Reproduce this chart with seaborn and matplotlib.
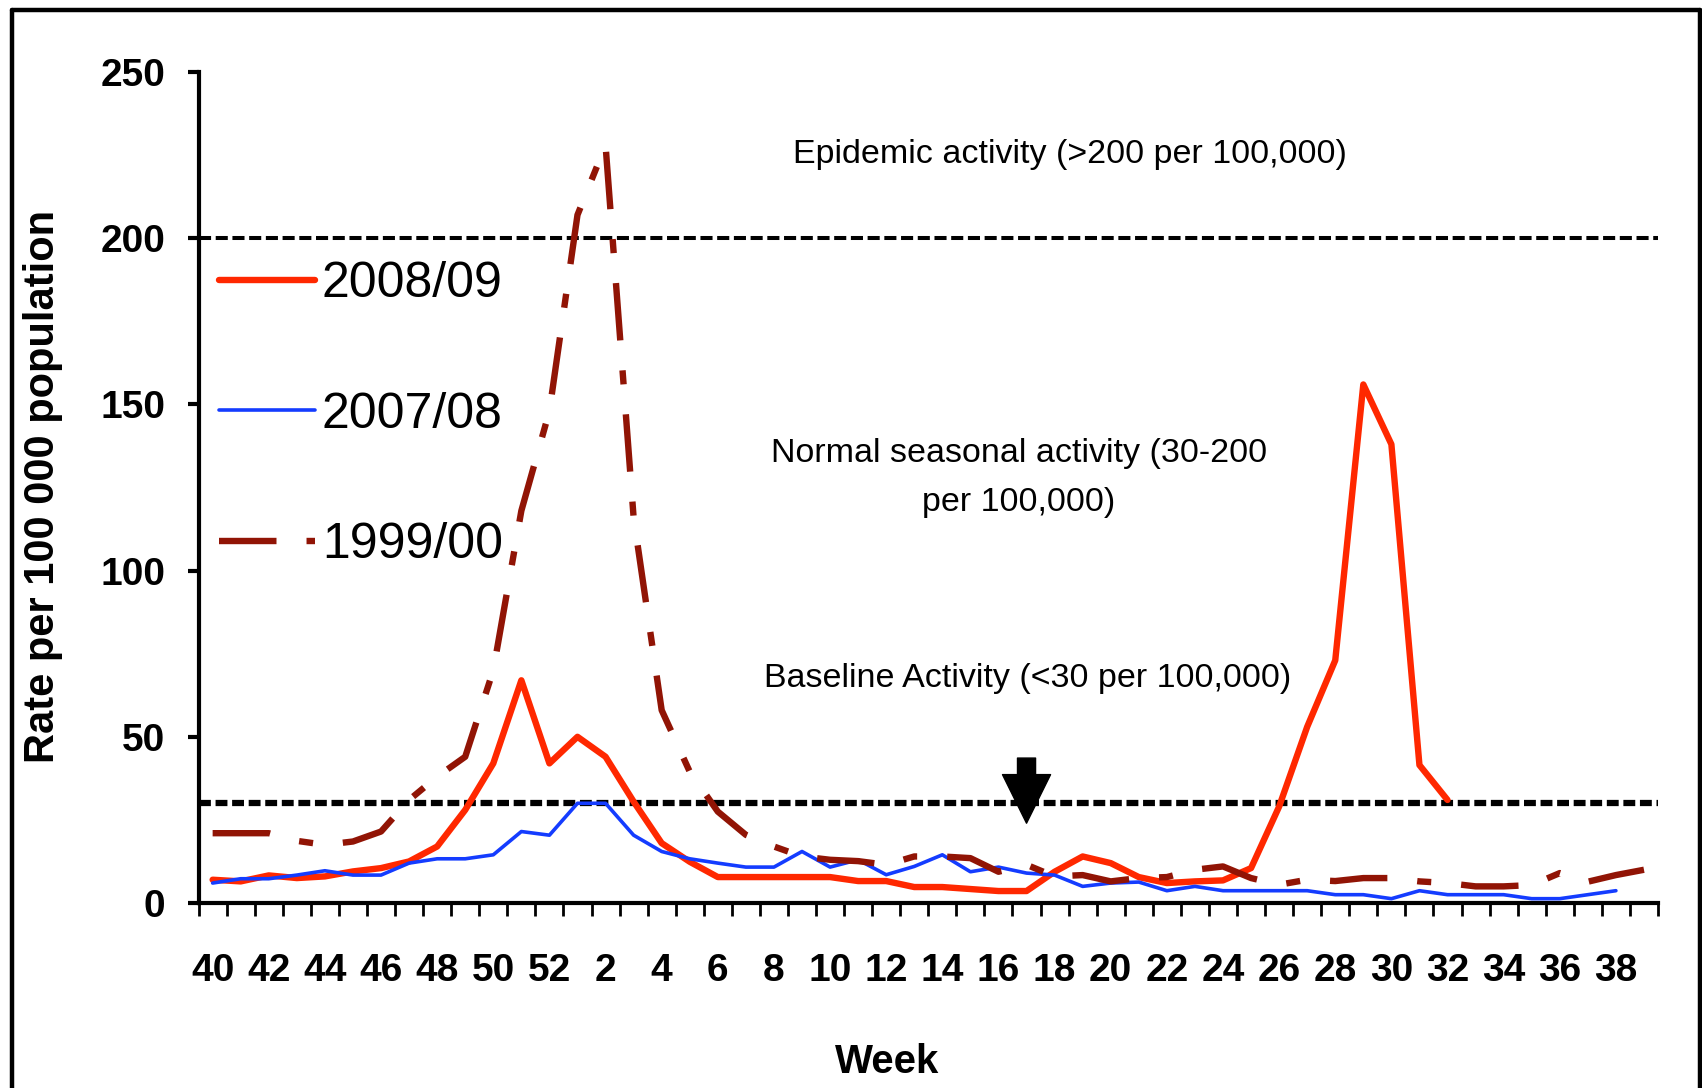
import numpy as np
import pandas as pd
import matplotlib
matplotlib.use("Agg")
import matplotlib.pyplot as plt
import seaborn as sns
from matplotlib.lines import Line2D

# ---------------- data ----------------
weeks = list(range(40, 53)) + list(range(1, 40))          # 52 week categories
tick_weeks = weeks[::2]

rate_2008_09 = [7, 6.5, 8.3, 7.5, 8, 9.5, 10.5, 12.5, 17, 28, 42, 67, 42, 50, 44,
                30.5, 18, 12.4, 7.8, 7.8, 7.8, 7.8, 7.8, 6.6, 6.6, 4.8, 4.8, 4.2,
                3.6, 3.6, 9.4, 14, 12, 7.8, 6, 6.5, 6.8, 10.5, 29, 53, 73, 156,
                138, 41.5, 31]
rate_2007_08 = [6, 7.3, 7.3, 8.4, 9.7, 8.4, 8.4, 12, 13.3, 13.3, 14.5, 21.5, 20.4,
                30, 30, 20.4, 15.5, 13.3, 12, 10.8, 10.8, 15.5, 10.8, 13, 8.5, 11,
                14.5, 9.4, 10.8, 9, 8.4, 5, 6, 6.3, 3.7, 5, 3.7, 3.7, 3.7, 3.7,
                2.5, 2.5, 1.3, 3.7, 2.5, 2.5, 2.5, 1.3, 1.3, 2.5, 3.7]
rate_1999_00 = [21, 21, 21, 18.7, 17.5, 18.5, 21.5, 31, 38, 44, 70, 118, 148, 207,
                228, 116, 58, 39.5, 27.5, 20.5, 17, 14, 13, 12.6, 11.5, 14, 14,
                13.5, 9.4, 11.5, 8, 8.4, 6.5, 7.5, 7.8, 10, 11, 7.5, 5.5, 7, 6.6,
                7.5, 7.5, 6.5, 6, 5, 5, 5.4, 9, 6.4, 8.4, 10]

series_labels = ["2008/09", "2007/08", "1999/00"]
series_values = [rate_2008_09, rate_2007_08, rate_1999_00]
series_colors = ["#FF2800", "#143CFF", "#911405"]
series_widths = [4.6, 2.6, 4.6]

epidemic_threshold = 200
baseline_threshold = 30
y_ticks = [0, 50, 100, 150, 200, 250]
arrow_week = 17
arrow_from, arrow_to = 43.6, 24

# ---------------- style ----------------
sns.set_style("white")
plt.rcParams["font.family"] = ["Liberation Sans", "DejaVu Sans"]
plt.rcParams["text.color"] = "black"
plt.rcParams["axes.labelcolor"] = "black"
plt.rcParams["xtick.color"] = "black"
plt.rcParams["ytick.color"] = "black"

W, H = 1702, 1088
fig = plt.figure(figsize=(W / 100, H / 100), dpi=100)
ax = fig.add_axes([198.6 / W, 1 - 903 / H, (1658 - 198.6) / W, (903 - 72) / H])

frames = []
for lab, vals in zip(series_labels, series_values):
    frames.append(pd.DataFrame({"pos": np.arange(len(vals)), "rate": vals, "season": lab}))
df = pd.concat(frames, ignore_index=True)

handles = []
for lab, col, lw in zip(series_labels, series_colors, series_widths):
    sub = df[df["season"] == lab]
    sns.lineplot(data=sub, x="pos", y="rate", color=col, linewidth=lw, ax=ax,
                 zorder=3, estimator=None)
    line = ax.lines[-1]
    if lab == "1999/00":
        line.set_dashes([9, 4.7, 2.2, 4.7])
    handles.append(line)

# reference lines
ax.axhline(epidemic_threshold, color="black", lw=2.9, ls=(0, (3.0, 1.15)), zorder=1.5)
ax.axhline(baseline_threshold, color="black", lw=4.5, ls=(0, (1.9, 0.75)), zorder=1.5)

# axes
ax.set_xlim(-0.5, len(weeks) - 0.5)
ax.set_ylim(0, 250)
ax.set_xlabel("")
ax.set_ylabel("")
ax.set_xticks(np.arange(-0.5, len(weeks), 1))
ax.set_xticklabels([])
ax.set_xticks(np.arange(0, len(weeks), 2), minor=True)
ax.set_xticklabels([str(w) for w in tick_weeks], minor=True, fontsize=28, fontweight="bold")
ax.tick_params(axis="x", which="major", bottom=True, length=9.5, width=2, direction="out", color="black")
ax.tick_params(axis="x", which="minor", bottom=True, length=0, pad=36)
ax.set_yticks(y_ticks)
ax.set_yticklabels([str(v) for v in y_ticks], fontsize=28, fontweight="bold")
ax.tick_params(axis="y", left=True, length=8, width=3, pad=16, direction="out", color="black")
for s in ["top", "right"]:
    ax.spines[s].set_visible(False)
for s in ["left", "bottom"]:
    ax.spines[s].set_linewidth(3)
    ax.spines[s].set_color("black")

# annotations
ax.text(30.55, 225.3, "Epidemic activity (>200 per 100,000)", ha="center", va="center", fontsize=24.5)
ax.text(28.72, 135.1, "Normal seasonal activity (30-200", ha="center", va="center", fontsize=24.5)
ax.text(28.72, 120.6, "per 100,000)", ha="center", va="center", fontsize=24.5)
ax.text(29.03, 67.5, "Baseline Activity (<30 per 100,000)", ha="center", va="center", fontsize=24.5)

arrow_pos = weeks.index(arrow_week)
ax.annotate("", xy=(arrow_pos, arrow_to), xytext=(arrow_pos, arrow_from),
            arrowprops=dict(arrowstyle="simple,head_length=3.5,head_width=3.46,tail_width=1.3",
                            color="black", mutation_scale=10, shrinkA=0, shrinkB=0),
            zorder=5)

# legend
leg = ax.legend(handles=handles, labels=series_labels, loc="upper left",
                bbox_to_anchor=(219 / W, 1 - 261 / H), bbox_transform=fig.transFigure,
                frameon=False, fontsize=36, handlelength=1.92, handletextpad=0.14,
                labelspacing=1.69, borderpad=0, borderaxespad=0)
for t in leg.get_texts():
    t.set_color("black")

# axis titles
fig.text(887 / W, 1 - 1073 / H, "Week", ha="center", va="baseline", fontsize=29, fontweight="bold")
fig.text(43 / W, 1 - 486 / H, "Rate per 100 000 population", rotation=90, ha="center",
         va="center", fontsize=30, fontweight="bold")

# outer frame (left, top, right)
fx0, fx1, fy1 = 12 / W, 1699.5 / W, 1 - 10 / H
for xs, ys in [([fx0, fx0], [-0.02, fy1]), ([fx0, fx1], [fy1, fy1]), ([fx1, fx1], [fy1, -0.02])]:
    fig.add_artist(Line2D(xs, ys, transform=fig.transFigure, color="black", lw=3.2))

fig.savefig("out.png", dpi=100)
